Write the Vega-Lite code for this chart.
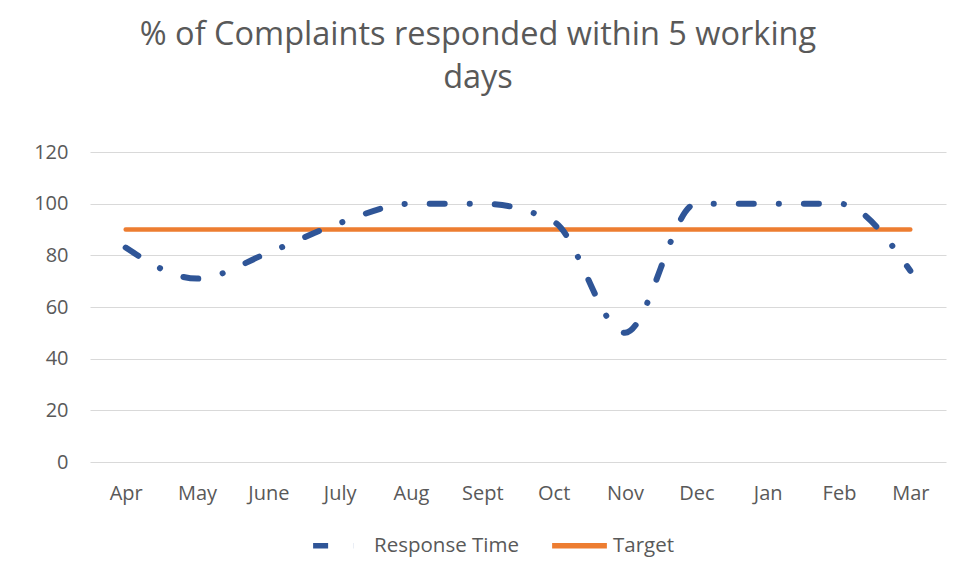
{
  "$schema": "https://vega.github.io/schema/vega-lite/v6.json",
  "width": 856,
  "height": 310,
  "autosize": {"type": "none"},
  "padding": {"left": 90, "top": 152, "right": 14, "bottom": 120},
  "background": "white",
  "title": {
    "text": ["% of Complaints responded within 5 working", "days"],
    "font": "Open Sans",
    "fontSize": 32.5,
    "fontWeight": "normal",
    "color": "#595959",
    "anchor": "middle",
    "frame": "group",
    "dx": -40,
    "lineHeight": 43,
    "offset": 48
  },
  "config": {
    "view": {"stroke": null},
    "font": "Open Sans",
    "axis": {
      "labelFont": "Open Sans",
      "labelFontSize": 20,
      "labelColor": "#595959",
      "gridColor": "#d9d9d9",
      "gridWidth": 1.2,
      "domain": false,
      "ticks": false,
      "tickSize": 0,
      "title": null
    },
    "legend": {
      "labelFont": "Open Sans",
      "labelFontSize": 20.5,
      "labelColor": "#595959"
    }
  },
  "data": {
    "values": [
      {"month": "Apr", "series": "Response Time", "value": 83},
      {"month": "May", "series": "Response Time", "value": 71},
      {"month": "June", "series": "Response Time", "value": 81},
      {"month": "July", "series": "Response Time", "value": 92.5},
      {"month": "Aug", "series": "Response Time", "value": 100},
      {"month": "Sept", "series": "Response Time", "value": 100},
      {"month": "Oct", "series": "Response Time", "value": 93},
      {"month": "Nov", "series": "Response Time", "value": 50},
      {"month": "Dec", "series": "Response Time", "value": 100},
      {"month": "Jan", "series": "Response Time", "value": 100},
      {"month": "Feb", "series": "Response Time", "value": 100},
      {"month": "Mar", "series": "Response Time", "value": 74},
      {"month": "Apr", "series": "Target", "value": 90},
      {"month": "May", "series": "Target", "value": 90},
      {"month": "June", "series": "Target", "value": 90},
      {"month": "July", "series": "Target", "value": 90},
      {"month": "Aug", "series": "Target", "value": 90},
      {"month": "Sept", "series": "Target", "value": 90},
      {"month": "Oct", "series": "Target", "value": 90},
      {"month": "Nov", "series": "Target", "value": 90},
      {"month": "Dec", "series": "Target", "value": 90},
      {"month": "Jan", "series": "Target", "value": 90},
      {"month": "Feb", "series": "Target", "value": 90},
      {"month": "Mar", "series": "Target", "value": 90}
    ]
  },
  "encoding": {
    "x": {
      "field": "month",
      "type": "ordinal",
      "sort": ["Apr", "May", "June", "July", "Aug", "Sept", "Oct", "Nov", "Dec", "Jan", "Feb", "Mar"],
      "scale": {"type": "point", "padding": 0.5},
      "axis": {"labelAngle": 0, "labelPadding": 31, "labelBaseline": "middle", "grid": false}
    },
    "y": {
      "field": "value",
      "type": "quantitative",
      "scale": {"domain": [0, 120], "nice": false},
      "axis": {"values": [0, 20, 40, 60, 80, 100, 120], "labelPadding": 22, "grid": true}
    },
    "color": {
      "field": "series",
      "type": "nominal",
      "scale": {"domain": ["Response Time", "Target"], "range": ["#2F5597", "#ED7D31"]},
      "legend": {
        "title": null,
        "orient": "none",
        "direction": "horizontal",
        "legendX": 220,
        "legendY": 363,
        "symbolType": "stroke",
        "symbolSize": 3000,
        "symbolStrokeWidth": 5.5,
        "labelOffset": 3,
        "columnPadding": 22
      }
    },
    "strokeDash": {
      "field": "series",
      "type": "nominal",
      "scale": {"domain": ["Response Time", "Target"], "range": [[15, 25, 0.1, 25], [1, 0]]},
      "legend": {
        "title": null,
        "orient": "none",
        "direction": "horizontal",
        "legendX": 220,
        "legendY": 363,
        "symbolType": "stroke",
        "symbolSize": 3000,
        "symbolStrokeWidth": 5.5,
        "labelOffset": 3,
        "columnPadding": 22
      }
    }
  },
  "layer": [
    {
      "transform": [{"filter": "datum.series === 'Target'"}],
      "mark": {"type": "line", "strokeWidth": 4.5, "strokeCap": "round"}
    },
    {
      "transform": [{"filter": "datum.series === 'Response Time'"}],
      "mark": {"type": "line", "strokeWidth": 6, "strokeCap": "round", "interpolate": "monotone"}
    }
  ]
}
